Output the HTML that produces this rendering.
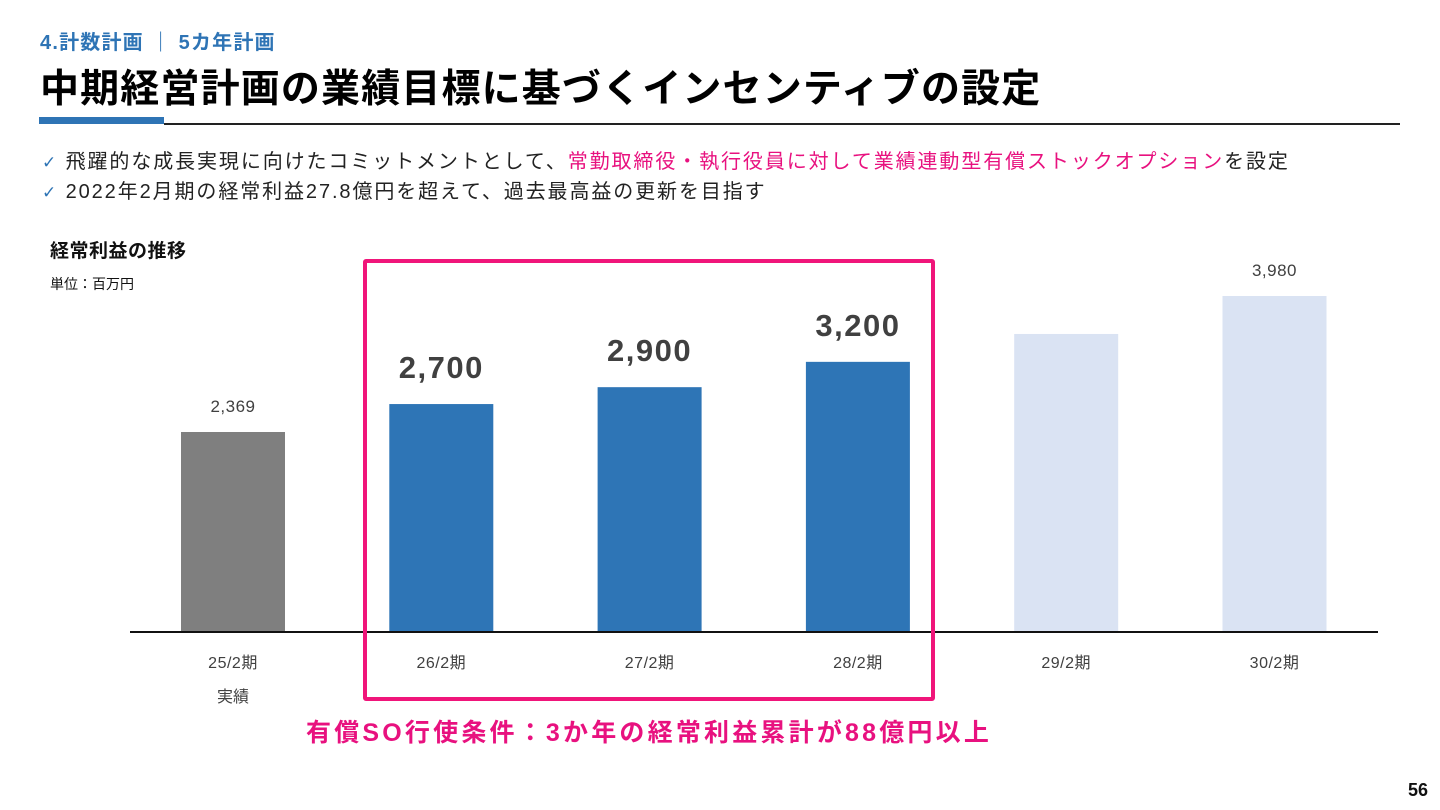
<!DOCTYPE html>
<html><head><meta charset="utf-8">
<style>
body{margin:0;width:1440px;height:810px;background:#fff;position:relative;overflow:hidden;font-family:"Liberation Sans","Noto Sans CJK JP",sans-serif;}
.abs{position:absolute;white-space:nowrap;}
.ck{color:#2e74b5;font-family:"DejaVu Sans",sans-serif;font-size:17px;}
</style></head>
<body>
<div class="abs" style="left:40px;top:26px;font-size:20px;font-weight:bold;color:#2e74b5;letter-spacing:1.2px;">4.計数計画 ｜ 5カ年計画</div>
<div class="abs" style="left:40px;top:58px;font-size:39px;font-weight:bold;color:#000;letter-spacing:1.15px;">中期経営計画の業績目標に基づくインセンティブの設定</div>
<div class="abs" style="left:39px;top:117px;width:125px;height:7px;background:#2e74b5;"></div>
<div class="abs" style="left:164px;top:123px;width:1236px;height:2px;background:#222;"></div>
<div class="abs" style="left:42px;top:145px;font-size:20px;color:#222;letter-spacing:1.9px;"><span class="ck">✓</span> 飛躍的な成長実現に向けたコミットメントとして、<span style="color:#e8117f">常勤取締役・執行役員に対して業績連動型有償ストックオプション</span>を設定</div>
<div class="abs" style="left:42px;top:175px;font-size:20px;color:#222;letter-spacing:1.9px;"><span class="ck">✓</span> 2022年2月期の経常利益27.8億円を超えて、過去最高益の更新を目指す</div>
<div class="abs" style="left:50px;top:236px;font-size:19px;font-weight:bold;color:#111;letter-spacing:0.5px;">経常利益の推移</div>
<div class="abs" style="left:50px;top:274px;font-size:14px;color:#111;">単位：百万円</div>
<svg class="abs" style="left:0;top:0" width="1440" height="810" id="chart"></svg>
<div class="abs" style="left:363px;top:259px;width:564px;height:434px;border:4px solid #f0157a;border-radius:3px;"></div>
<div class="abs" style="left:306px;top:713px;font-size:25px;font-weight:bold;color:#e8117f;letter-spacing:3.2px;">有償SO行使条件：3か年の経常利益累計が88億円以上</div>
<div class="abs" style="left:1408px;top:780px;font-size:18px;font-weight:bold;color:#111;">56</div>
<script>
const categories=["25/2期","26/2期","27/2期","28/2期","29/2期","30/2期"];
const values=[2369,2700,2900,3200,3530,3980];
const labels=["2,369","2,700","2,900","3,200","","3,980"];
const kinds=["actual","target","target","target","plan","plan"];
const svg=document.getElementById('chart');
const NS='http://www.w3.org/2000/svg';
const baseY=632, scale=200/2369, x0=233, step=208.3, bw=104;
const xOf=i=>x0+i*step;
const yOf=v=>baseY-v*scale;
const colors={actual:"#7f7f7f",target:"#2e75b6",plan:"#dae3f3"};
function mk(t,a){const e=document.createElementNS(NS,t);for(const k in a)e.setAttribute(k,a[k]);svg.appendChild(e);return e;}
categories.forEach((c,i)=>{
  const r=mk('rect',{x:xOf(i)-bw/2,y:yOf(values[i]),width:bw,height:values[i]*scale,fill:colors[kinds[i]]});
  
  
  const big=kinds[i]==="target";
  if(labels[i]){
    const t=mk('text',{x:xOf(i),y:yOf(values[i])-(big?26:20),'text-anchor':'middle','font-size':big?31:17,'font-weight':big?'bold':'normal','letter-spacing':big?1.5:0.5,fill:'#404040'});
    t.textContent=labels[i];
    
    
  }
  const xl=mk('text',{x:xOf(i),y:668,'text-anchor':'middle','font-size':16,'letter-spacing':0.5,fill:'#404040'});
  xl.textContent=c;
  
  
});
const sub=mk('text',{x:xOf(0),y:702,'text-anchor':'middle','font-size':16,fill:'#404040'});
sub.textContent="実績";


const ax=mk('line',{x1:130,x2:1378,y1:baseY,y2:baseY,stroke:'#111','stroke-width':2});


</script>
</body></html>
